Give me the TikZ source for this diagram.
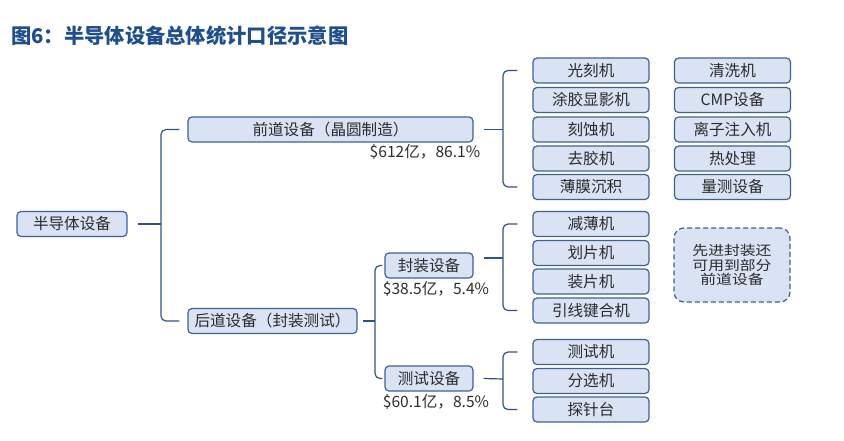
\documentclass[tikz,border=0pt]{standalone}
\usepackage{fontspec}
\setmainfont{Noto Sans CJK SC}
\newfontfamily\notefont[FakeStretch=1.18]{Noto Sans CJK SC}
\usetikzlibrary{positioning}
\definecolor{boxfill}{HTML}{DAE3F3}
\definecolor{boxline}{HTML}{3E6290}
\definecolor{linkblue}{HTML}{2F5382}
\definecolor{titleblue}{HTML}{1F4E8C}
\definecolor{txt}{HTML}{2B2B2B}

\begin{document}
\begin{tikzpicture}[x=1pt,y=-1pt,
    box/.style={draw=boxline,fill=boxfill,line width=1.2pt,rounded corners=4pt,minimum height=25pt,inner sep=0pt,text=txt,font=\fontsize{15.6}{16}\selectfont},
    leaf/.style={box,minimum width=116pt},
    val/.style={text=txt,inner sep=0pt,font=\fontsize{15.6}{16}\selectfont},
    link/.style={draw=linkblue,line width=1.2pt,rounded corners=5pt}]
  \useasboundingbox (0,0) rectangle (844,440);
  \node[anchor=west,inner sep=0pt,text=titleblue,font=\fontsize{20.3}{22}\selectfont\bfseries](title)at(11,36){图6：半导体设备总体统计口径示意图};
  % tree
  \node[box,minimum width=110pt](root)at(72,224){半导体设备};
  \node[box,minimum width=285pt](fd)at(330.5,129.5){前道设备（晶圆制造）};
  \node[val](fdv)at(425,152){\$612亿，86.1\%};
  \node[box,minimum width=169pt](hd)at(272.5,321){后道设备（封装测试）};
  \node[box,minimum width=88pt](fz)at(429,265.5){封装设备};
  \node[val](fzv)at(436,289){\$38.5亿，5.4\%};
  \node[box,minimum width=88pt](cs)at(429,378.5){测试设备};
  \node[val](csv)at(436,402){\$60.1亿，8.5\%};
  % front-end equipment
  \node[leaf](q1)at(591,70.5){光刻机};
  \node[leaf](q2)at(591,100){涂胶显影机};
  \node[leaf](q3)at(591,129.5){刻蚀机};
  \node[leaf](q4)at(591,158.5){去胶机};
  \node[leaf](q5)at(591,187){薄膜沉积};
  \node[leaf](r1)at(732.5,70.5){清洗机};
  \node[leaf](r2)at(732.5,100){CMP设备};
  \node[leaf](r3)at(732.5,129.5){离子注入机};
  \node[leaf](r4)at(732.5,158.5){热处理};
  \node[leaf](r5)at(732.5,187){量测设备};
  % back-end equipment
  \node[leaf](z1)at(591,224){减薄机};
  \node[leaf](z2)at(591,253){划片机};
  \node[leaf](z3)at(591,281.5){装片机};
  \node[leaf](z4)at(591,310.5){引线键合机};
  \node[leaf](c1)at(591,352){测试机};
  \node[leaf](c2)at(591,381){分选机};
  \node[leaf](c3)at(591,409.5){探针台};
  \node[box,dash pattern=on 5pt off 3pt,minimum width=116pt,minimum height=74pt,rounded corners=10pt,align=center,font=\notefont\fontsize{13.4}{14.6}\selectfont](note)at(732,265){先进封装还\\可用到部分\\前道设备};
  % braces
  \coordinate(b0)at(161,224);
  \draw[link](root.east)++(10,0)--(b0);
  \draw[link]([xshift=-8]fd.west)-|(b0)|-([xshift=-8]hd.west);
  \coordinate(b1)at(503,129.5);
  \draw[link](fd.east)++(10,0)--(b1);
  \draw[link]([xshift=-15]q1.west)-|(b1)|-([xshift=-15]q5.west);
  \coordinate(b2)at(375,321);
  \draw[link](hd.east)++(5,0)--(b2);
  \draw[link]([xshift=-2]fz.west)-|(b2)|-([xshift=-2]cs.west);
  \coordinate(b3)at(503,258);
  \draw[link](fz.east|-b3)++(10,0)--(b3);
  \draw[link]([xshift=-15]z1.west)-|(b3)|-([xshift=-15]z4.west);
  \coordinate(b4)at(503,379);
  \draw[link](cs.east)++(10,0)--(b4);
  \draw[link]([xshift=-15]c1.west)-|(b4)|-([xshift=-15]c3.west);
\end{tikzpicture}
\end{document}
